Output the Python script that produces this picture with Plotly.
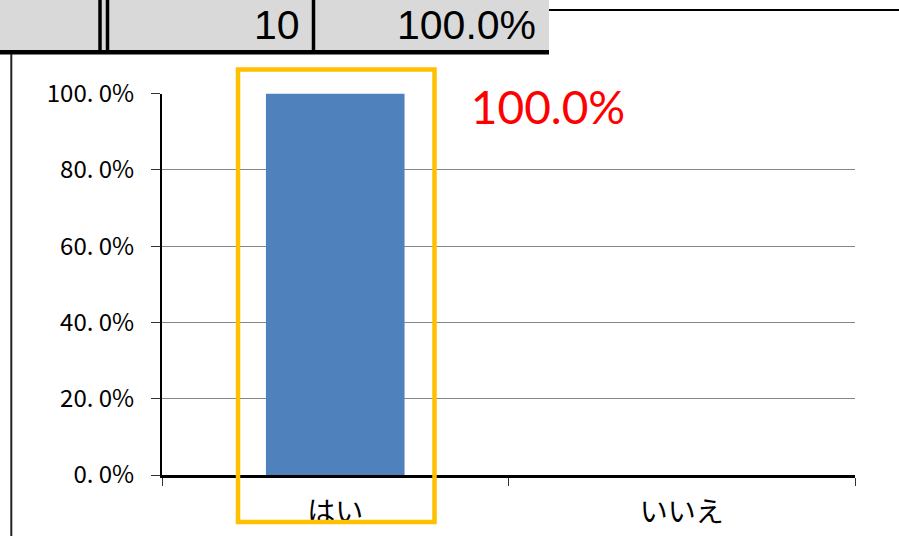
import plotly.graph_objects as go

# ---- data ----
categories = ["はい", "いいえ"]
shares = [1.0, 0.0]
table_count = "10"
table_share = "100.0%"
highlight_label = "100.0%"
y_tick_vals = [0, 0.2, 0.4, 0.6, 0.8, 1.0]
y_tick_text = ["0. 0%", "20. 0%", "40. 0%", "60. 0%", "80. 0%", "100. 0%"]

W, H = 899, 536


def px(x):
    return x / W


def py(y):
    return 1 - y / H


fig = go.Figure()
fig.add_trace(go.Bar(x=categories, y=shares, marker=dict(color="#4F81BD", line=dict(width=0)),
                     hoverinfo="skip"))

shapes = []
# spreadsheet header row
shapes.append(dict(type="rect", xref="paper", yref="paper", x0=px(0), x1=px(549), y0=py(0), y1=py(52),
                   fillcolor="#D9D9D9", line=dict(width=0), layer="below"))
shapes.append(dict(type="line", xref="paper", yref="paper", x0=px(0), x1=px(549), y0=py(52.3), y1=py(52.3),
                   line=dict(color="black", width=4.5)))
for xv in [100, 107.5, 313.5]:
    shapes.append(dict(type="line", xref="paper", yref="paper", x0=px(xv), x1=px(xv), y0=py(0), y1=py(52),
                       line=dict(color="black", width=3.5)))
shapes.append(dict(type="line", xref="paper", yref="paper", x0=px(549), x1=px(W), y0=py(10), y1=py(10),
                   line=dict(color="black", width=2)))
shapes.append(dict(type="line", xref="paper", yref="paper", x0=px(11.3), x1=px(11.3), y0=py(54), y1=py(H),
                   line=dict(color="#222222", width=2)))
# highlight frame
shapes.append(dict(type="rect", xref="paper", yref="paper", x0=px(238), x1=px(434.5), y0=py(69.5), y1=py(522),
                   line=dict(color="#FFC000", width=4.5), fillcolor="rgba(0,0,0,0)", layer="above"))

annotations = [
    dict(xref="paper", yref="paper", x=px(302), y=py(25), xanchor="right", yanchor="middle",
         text=table_count, showarrow=False,
         font=dict(family="Liberation Sans, Arial", size=41, color="black")),
    dict(xref="paper", yref="paper", x=px(538), y=py(25), xanchor="right", yanchor="middle",
         text=table_share, showarrow=False,
         font=dict(family="Liberation Sans, Arial", size=41, color="black")),
    dict(xref="paper", yref="paper", x=px(548), y=py(106), xanchor="center", yanchor="middle",
         text=highlight_label, showarrow=False, bgcolor="white", width=196, height=50,
         font=dict(family="Lato, Open Sans", size=46, color="#FF0000")),
]

fig.update_layout(
    width=W, height=H,
    autosize=False,
    margin=dict(l=0, r=0, t=0, b=0, pad=0, autoexpand=False),
    paper_bgcolor="white", plot_bgcolor="white",
    showlegend=False,
    bargap=0.6,
    shapes=shapes,
    annotations=annotations,
    font=dict(family="Noto Sans CJK JP", color="black"),
    xaxis=dict(domain=[px(162), px(855)], type="category", range=[-0.5, 1.5],
               automargin=False,
               showline=True, linecolor="black", linewidth=2.5,
               ticks="outside", tickson="boundaries", ticklen=8, tickcolor="#333", tickwidth=1,
               ticklabelstandoff=11,
               tickfont=dict(family="Noto Sans CJK JP", size=28, color="black"),
               showgrid=False, zeroline=False, fixedrange=True),
    yaxis=dict(domain=[py(475), py(93.5)], range=[0, 1],
               automargin=False,
               tickvals=y_tick_vals, ticktext=y_tick_text,
               showline=True, linecolor="black", linewidth=2,
               ticks="outside", ticklen=9, tickcolor="#333", tickwidth=1,
               ticklabelstandoff=12,
               tickfont=dict(family="Noto Sans CJK JP", size=24, color="black"),
               showgrid=True, gridcolor="#868686", gridwidth=1, zeroline=False, fixedrange=True),
)

fig.write_html("out.html")
